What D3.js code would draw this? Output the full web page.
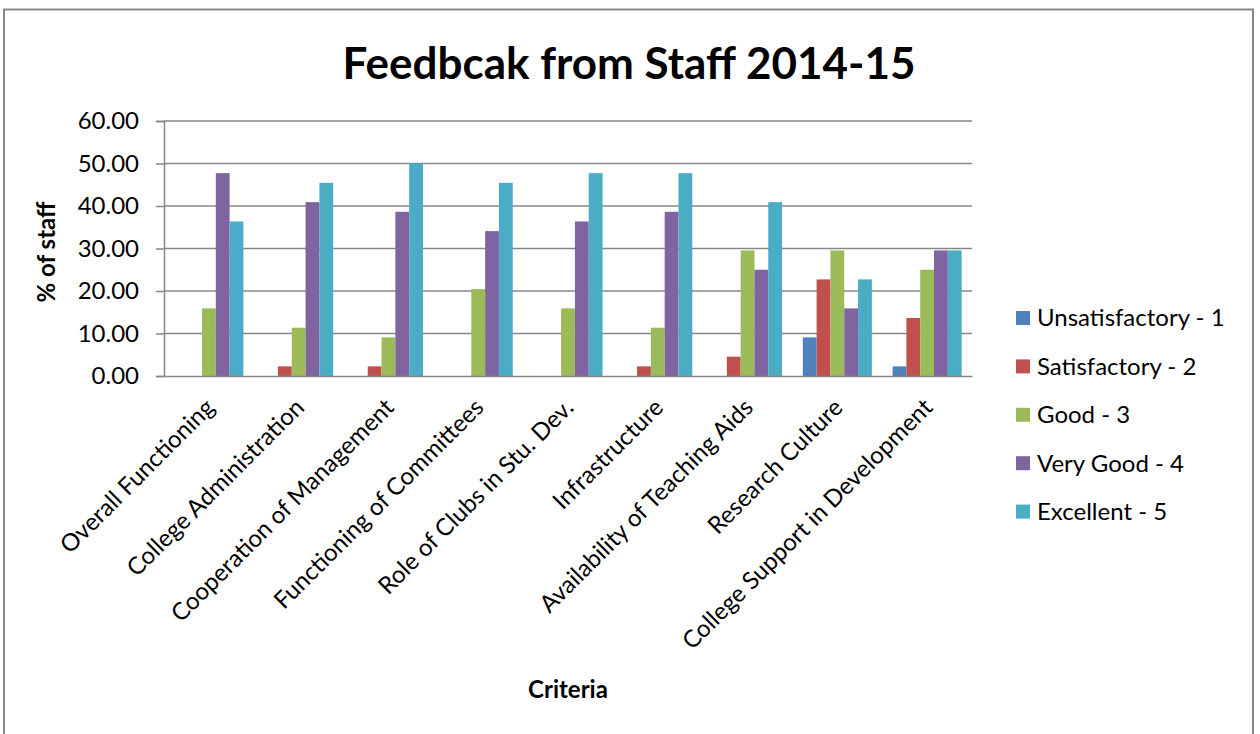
<!DOCTYPE html>
<html>
<head>
<meta charset="utf-8">
<script src="https://cdn.jsdelivr.net/npm/d3@7"></script>
<style>
  html, body { margin: 0; padding: 0; background: #fff; }
  svg { display: block; }
  text { font-family: Lato, "Open Sans", sans-serif; fill: #000; }
</style>
</head>
<body>
<svg id="chart" width="1260" height="734"></svg>
<script>
const categories = [
  "Overall Functioning",
  "College Administration",
  "Cooperation of Management",
  "Functioning of Committees",
  "Role of Clubs in Stu. Dev.",
  "Infrastructure",
  "Availability of Teaching Aids",
  "Research Culture",
  "College Support in Development"
];
const seriesNames = ["Unsatisfactory - 1", "Satisfactory - 2", "Good - 3", "Very Good - 4", "Excellent - 5"];
const unsatisfactory = [0, 0, 0, 0, 0, 0, 0, 9.09, 2.27];
const satisfactory   = [0, 2.27, 2.27, 0, 0, 2.27, 4.55, 22.73, 13.64];
const good           = [15.91, 11.36, 9.09, 20.45, 15.91, 11.36, 29.55, 29.55, 25.00];
const veryGood       = [47.73, 40.91, 38.64, 34.09, 36.36, 38.64, 25.00, 15.91, 29.55];
const excellent      = [36.36, 45.45, 50.00, 45.45, 47.73, 47.73, 40.91, 22.73, 29.55];
const yTicks = [0, 10, 20, 30, 40, 50, 60];
const colors = ["#4F81BD", "#C0504D", "#9BBB59", "#8064A2", "#4BACC6"];
const chartTitle = "Feedbcak from Staff 2014-15";
const yTitle = "% of staff";
const xTitle = "Criteria";

const seriesValues = [unsatisfactory, satisfactory, good, veryGood, excellent];

const svg = d3.select("#chart");
const plot = { left: 164, right: 972, top: 121, bottom: 376 };
const fs = 24;

// outer border
svg.append("rect")
  .attr("x", 4).attr("y", 9.5).attr("width", 1249).attr("height", 740)
  .attr("fill", "#fff").attr("stroke", "#878787").attr("stroke-width", 2);

const y = d3.scaleLinear().domain([0, 60]).range([plot.bottom, plot.top]);
const x0 = d3.scaleBand().domain(categories).range([plot.left, plot.right]).paddingInner(0).paddingOuter(0);
const x1 = d3.scaleBand().domain(seriesNames).range([0, x0.bandwidth()]).paddingInner(0).paddingOuter(0.75);

// gridlines
svg.append("g").selectAll("line").data(yTicks.filter(d => d > 0)).join("line")
  .attr("x1", plot.left).attr("x2", plot.right)
  .attr("y1", d => y(d)).attr("y2", d => y(d))
  .attr("stroke", "#878787").attr("stroke-width", 1.5);

// y axis
const yAxis = d3.axisLeft(y).tickValues(yTicks).tickFormat(d3.format(".2f")).tickSize(8).tickPadding(17);
const gy = svg.append("g").attr("transform", `translate(${plot.left},0)`).call(yAxis);
gy.select(".domain").attr("stroke", "#878787").attr("stroke-width", 1.5);
gy.selectAll(".tick line").attr("stroke", "#878787").attr("stroke-width", 1.5);
gy.selectAll(".tick text").attr("font-family", "Lato").attr("font-size", fs).attr("fill", "#000");

// bars
const groups = svg.append("g").selectAll("g").data(categories).join("g")
  .attr("transform", d => `translate(${x0(d)},0)`);
groups.selectAll("rect")
  .data((c, i) => seriesNames.map((s, j) => ({ s, j, v: seriesValues[j][i] })))
  .join("rect")
  .attr("x", d => x1(d.s))
  .attr("width", x1.bandwidth())
  .attr("y", d => y(d.v))
  .attr("height", d => y(0) - y(d.v))
  .attr("fill", d => colors[d.j]);

// x axis line
const xAxis = d3.axisBottom(x0).tickSize(0).tickFormat("");
const gx = svg.append("g").attr("transform", `translate(0,${plot.bottom})`).call(xAxis);
gx.select(".domain").attr("stroke", "#878787").attr("stroke-width", 1.5);

// x labels rotated
svg.append("g").selectAll("text").data(categories).join("text")
  .attr("transform", d => `translate(${x0(d) + x0.bandwidth() / 2 + 1},${plot.bottom + 27}) rotate(-45)`)
  .attr("text-anchor", "end")
  .attr("dy", "0.35em")
  .attr("font-size", fs)
  .text(d => d);

// title
svg.append("text")
  .attr("x", 629).attr("y", 79)
  .attr("text-anchor", "middle")
  .attr("font-size", 44).attr("font-weight", "bold")
  .text(chartTitle);

// y title
svg.append("text")
  .attr("transform", "translate(55,252) rotate(-90)")
  .attr("text-anchor", "middle")
  .attr("font-size", fs).attr("font-weight", "bold")
  .text(yTitle);

// x title
svg.append("text")
  .attr("x", 568).attr("y", 698)
  .attr("text-anchor", "middle")
  .attr("font-size", fs).attr("font-weight", "bold")
  .text(xTitle);

// legend
const legend = svg.append("g").selectAll("g").data(seriesNames).join("g")
  .attr("transform", (d, i) => `translate(1016,${318 + i * 48.4})`);
legend.append("rect")
  .attr("x", 0).attr("y", -7).attr("width", 14).attr("height", 14)
  .attr("fill", (d, i) => colors[i]);
legend.append("text")
  .attr("x", 21).attr("y", 0).attr("dy", "0.35em")
  .attr("font-size", fs)
  .text(d => d);
</script>
</body>
</html>
